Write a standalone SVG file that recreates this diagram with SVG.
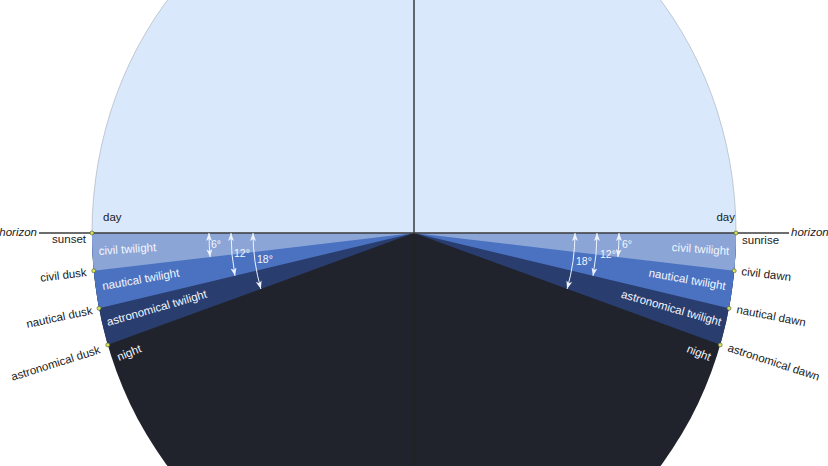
<svg xmlns="http://www.w3.org/2000/svg" width="828" height="466" viewBox="0 0 828 466">
<defs>
<style>
text{font-family:"Liberation Sans",Arial,Helvetica,sans-serif;font-size:11.5px}
.dark{fill:#1a1a1a}
.light{fill:#f2f6ff}
.deg{fill:#f2f6ff;font-size:10.5px}
.it{font-style:italic}
.arr{fill:none;stroke:#eef3ff;stroke-width:1;marker-start:url(#ah);marker-end:url(#ah)}
.dot{fill:#d4e35a;stroke:#4a5030;stroke-width:0.6}
</style>
<marker id="ah" viewBox="0 0 8 6" refX="8" refY="3" markerWidth="8" markerHeight="6" markerUnits="userSpaceOnUse" orient="auto-start-reverse"><path d="M0,0 L8,3 L0,6 L2,3 z" fill="#eef3ff"/></marker>
</defs>
<rect width="828" height="466" fill="#ffffff"/>
<g id="sky">
<path id="day" d="M92 233 A322 362 0 0 1 736 233 Z" fill="#dae8fb" stroke="#b4bcc8" stroke-width="0.8"/>
<path id="night" d="M92 233 A322 362 0 0 0 736 233 Z" fill="#20232c"/>
<path id="astro-l" d="M414 233 L92 233 A322 362 0 0 0 107.76 344.86 Z" fill="#293d6e"/>
<path id="naut-l" d="M414 233 L92 233 A322 362 0 0 0 99.04 308.26 Z" fill="#4a72c0"/>
<path id="civil-l" d="M414 233 L92 233 A322 362 0 0 0 93.76 270.84 Z" fill="#8ba5d6"/>
<path id="astro-r" d="M414 233 L736 233 A322 362 0 0 1 720.24 344.86 Z" fill="#293d6e"/>
<path id="naut-r" d="M414 233 L736 233 A322 362 0 0 1 728.96 308.26 Z" fill="#4a72c0"/>
<path id="civil-r" d="M414 233 L736 233 A322 362 0 0 1 734.24 270.84 Z" fill="#8ba5d6"/>
</g>
<g id="lines">
<line x1="414" y1="0" x2="414" y2="466" stroke="#222" stroke-width="1.3"/>
<line x1="39" y1="233" x2="789" y2="233" stroke="#3c3c3c" stroke-width="1.5"/>
</g>
<g id="arrows">
<path class="arr" d="M209 233 A205 230.46 0 0 0 210.1 257.1"/>
<path class="arr" d="M231 233 A183 205.73 0 0 0 235.0 275.8"/>
<path class="arr" d="M253 233 A161 181.0 0 0 0 260.9 288.9"/>
<path class="arr" d="M619 233 A205 230.46 0 0 1 617.9 257.1"/>
<path class="arr" d="M597 233 A183 205.73 0 0 1 593.0 275.8"/>
<path class="arr" d="M575 233 A161 181.0 0 0 1 567.1 288.9"/>
<text class="deg" x="211" y="248">6°</text>
<text class="deg" x="234" y="257">12°</text>
<text class="deg" x="257" y="263">18°</text>
<text class="deg" x="622" y="248">6°</text>
<text class="deg" x="600" y="258">12°</text>
<text class="deg" x="576" y="265">18°</text>
</g>
<g id="dots">
<circle class="dot" cx="92" cy="233" r="2"/>
<circle class="dot" cx="93.8" cy="270.8" r="2"/>
<circle class="dot" cx="99" cy="308.3" r="2"/>
<circle class="dot" cx="107.8" cy="344.9" r="2"/>
<circle class="dot" cx="736" cy="233" r="2"/>
<circle class="dot" cx="734.2" cy="270.8" r="2"/>
<circle class="dot" cx="729" cy="308.3" r="2"/>
<circle class="dot" cx="720.2" cy="344.9" r="2"/>
</g>
<g id="inner-labels">
<text class="dark" x="103" y="221">day</text>
<text class="dark" x="735" y="221" text-anchor="end">day</text>
<text class="light" transform="translate(99,255) rotate(-4)">civil twilight</text>
<text class="light" transform="translate(103,290) rotate(-10)">nautical twilight</text>
<text class="light" transform="translate(108,326) rotate(-16)">astronomical twilight</text>
<text class="light" transform="translate(119,361) rotate(-22)">night</text>
<text class="light" text-anchor="end" transform="translate(729,255) rotate(4)">civil twilight</text>
<text class="light" text-anchor="end" transform="translate(725,290) rotate(10)">nautical twilight</text>
<text class="light" text-anchor="end" transform="translate(720,326) rotate(16)">astronomical twilight</text>
<text class="light" text-anchor="end" transform="translate(709,361) rotate(22)">night</text>
</g>
<g id="outer-labels">
<text class="dark it" x="37" y="236" text-anchor="end">horizon</text>
<text class="dark it" x="791" y="236">horizon</text>
<text class="dark" x="86" y="243" text-anchor="end">sunset</text>
<text class="dark" text-anchor="end" transform="translate(87,276) rotate(-7)">civil dusk</text>
<text class="dark" text-anchor="end" transform="translate(93,314) rotate(-12)">nautical dusk</text>
<text class="dark" text-anchor="end" transform="translate(101,353) rotate(-17.5)">astronomical dusk</text>
<text class="dark" x="742" y="244">sunrise</text>
<text class="dark" transform="translate(741,275) rotate(7)">civil dawn</text>
<text class="dark" transform="translate(736,313) rotate(11)">nautical dawn</text>
<text class="dark" transform="translate(727,351) rotate(18)">astronomical dawn</text>
</g>
</svg>
